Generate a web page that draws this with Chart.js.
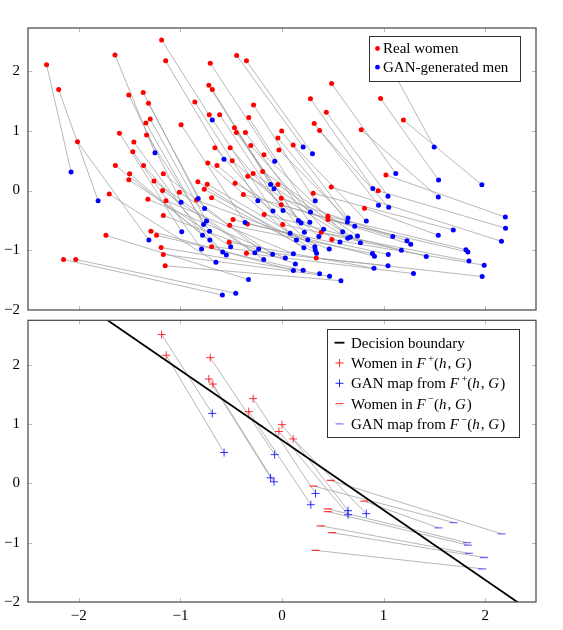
<!DOCTYPE html>
<html>
<head>
<meta charset="utf-8">
<script src="https://cdn.jsdelivr.net/npm/chart.js@4.4.0/dist/chart.umd.min.js"></script>
<style>
  html, body { margin: 0; padding: 0; background: #fff; }
  #wrap { position: relative; width: 563px; height: 630px; }
  .panel { position: absolute; left: 0; width: 563px; height: 315px; }
</style>
</head>
<body>
<div id="wrap">
  <div class="panel" style="top:0"><canvas id="topChart" width="563" height="315"></canvas></div>
  <div class="panel" style="top:315px"><canvas id="bottomChart" width="563" height="315"></canvas></div>
</div>
<script>
// top panel: real women and their GAN-generated men, in pair order
var realX = [-1.185, -1.145, -0.706, -0.72, -0.686, -0.28, -0.327, -0.003, -0.04, 0.11,
             0.485, 0.307, 0.812, 0.452, 0.452, 0.386, 0.49, 0.337,
             -2.317, -2.198, -2.013, -1.644, -2.15, -2.03, -1.733, -1.70,
             -0.446, -0.35, 0.488, 0.28, 0.436, 0.37, 0.317, 0.97, 0.78, 1.195, 1.0, 1.023, 0.947,
             -1.15, -1.168, -1.19, -1.235, -1.29, -0.693, -0.52, -0.35, -1.168, -1.32,
             -1.142, -0.482, -0.515, -0.34, -0.175, 0.007, -0.007, -0.007, -0.38, -0.04,
             -1.508, -1.366, -1.314, -1.297, -1.34, -1.333, -1.60, -1.458, -1.468, -1.64,
             -1.363, -1.50, -1.508, -1.26, -0.858, -0.716, -0.614, -0.993, -0.468, -0.449,
             -0.36, -0.03, -0.66, -0.51, -0.307, -0.178, -0.73, -0.64, -0.49, -0.337,
             -0.284, -0.19, -1.168, -1.175, -0.828, -0.736, -0.765, -0.462, -1.01, -0.693, -0.842];
var realY = [2.52, 2.17, 2.13, 1.76, 1.69, 1.43, 1.22, 0.995, 0.88, 0.76,
             0.057, -0.045, -0.295, -0.43, -0.485, -0.70, -0.82, -1.13,
             2.105, 1.69, 0.815, 2.27, -1.155, -1.155, -0.75, -0.06,
             2.26, 2.17, 1.79, 1.535, 1.31, 1.005, 1.12, 1.54, 1.015, 1.18, 2.28, 0.26, -0.005,
             -1.26, -1.07, -0.955, -0.75, -0.68, -0.94, -0.865, -1.05, -0.42, -0.145,
             -0.17, -0.485, -0.58, -0.56, -0.40, -0.57, -0.24, -0.13, -0.065, 0.10,
             1.60, 1.64, 1.46, 1.196, 1.13, 0.93, 0.96, 0.81, 0.65, 0.42,
             0.42, 0.28, 0.18, 0.16, 1.48, 1.27, 1.27, 1.10, 1.05, 0.97,
             0.97, 0.68, 0.715, 0.715, 0.755, 0.60, 0.46, 0.42, 0.50, 0.24,
             0.285, 0.32, 0.28, 0.0, 0.145, 0.105, 0.02, 0.12, -0.03, -0.12, -0.16];
var ganX = [-0.686, -0.571, -0.072, -0.112, -0.079, 0.327, 0.28, 0.65, 0.644, 0.83,
            2.16, 1.686, 1.538, 1.81, 1.83, 1.84, 1.99, 1.97,
            -2.076, -1.81, -1.31, -1.25, -0.587, -0.455, -0.33, -0.65,
            0.208, 0.30, 1.12, 0.894, 1.043, 1.05, 0.95, 1.541, 1.538, 1.967, 1.498, 2.198, 2.20,
            0.58, 0.468, 0.37, 0.208, 0.112, 1.043, 0.905, 1.294, 0.132, 0.033,
            0.112, 0.91, 0.89, 1.046, 1.42, 1.175, 1.267, 1.23, 1.09, 0.772,
            -0.993, -0.825, -0.762, -0.743, -0.772, -0.713, -0.987, -0.782, -0.792, -0.71,
            -0.584, -0.548, -0.505, -0.267, -0.238, -0.089, 0.01, -0.363, 0.161, 0.188,
            0.274, 0.716, 0.08, 0.22, 0.41, 0.597, 0.142, 0.254, 0.363, 0.647,
            0.673, 0.743, -0.23, -0.18, 0.215, 0.323, 0.327, 0.571, -0.092, 0.34, 0.465];
var ganY = [1.18, 0.525, 0.49, 0.10, 0.03, -0.17, -0.36, -0.46, -0.525, -0.51,
            -0.85, -0.66, -0.75, -0.99, -1.03, -1.18, -1.25, -1.44,
            0.31, -0.17, -0.83, 0.63, -1.75, -1.72, -1.49, -1.20,
            0.73, 0.615, 0.285, 0.035, -0.095, -0.28, -0.245, 0.175, -0.11, 0.095, 0.73, -0.445, -0.63,
            -1.51, -1.435, -1.395, -1.335, -1.34, -1.26, -1.30, -1.39, -1.23, -1.13,
            -1.06, -1.10, -1.055, -1.07, -1.105, -1.00, -0.90, -0.84, -0.77, -0.875,
            -0.195, -0.135, -0.30, -0.51, -0.57, -0.68, -0.69, -0.75, -0.98, -0.83,
            -1.03, -1.08, -0.94, -1.04, -0.17, -0.345, -0.335, -0.535, -0.50, -0.545,
            -0.53, -0.60, -0.715, -0.70, -0.65, -0.69, -0.83, -0.825, -0.77, -0.80,
            -0.78, -0.76, -0.98, -1.155, -0.96, -0.94, -0.995, -0.86, -1.065, -1.05, -0.98];

// bottom panel: women in F+ / F- and their GAN maps, in pair order
var plusWomenX = [-1.185, -1.14, -0.706, -0.72, -0.68, -0.284, -0.327, 0.0, -0.03, 0.11];
var plusWomenY = [2.51, 2.16, 2.12, 1.76, 1.675, 1.43, 1.21, 0.99, 0.876, 0.75];
var plusGanX = [-0.686, -0.57, -0.072, -0.112, -0.079, 0.33, 0.284, 0.65, 0.65, 0.83];
var plusGanY = [1.18, 0.52, 0.485, 0.094, 0.027, -0.17, -0.36, -0.46, -0.53, -0.51];
var minusWomenX = [0.48, 0.31, 0.81, 0.45, 0.45, 0.38, 0.49, 0.33];
var minusWomenY = [0.05, -0.045, -0.30, -0.43, -0.475, -0.715, -0.83, -1.13];
var minusGanX = [2.16, 1.69, 1.54, 1.82, 1.83, 1.84, 1.99, 1.97];
var minusGanY = [-0.85, -0.66, -0.75, -1.0, -1.04, -1.18, -1.25, -1.44];

var boundaryX = [-1.75, 2.35];
var boundaryY = [2.79, -2.04];

var tickValues = [-2, -1, 0, 1, 2];

var SERIF = '"Liberation Serif", "DejaVu Serif", serif';

function toPoints(xs, ys) {
    return xs.map(function(x, i) { return {x: x, y: ys[i]}; });
}

// gray connectors: pairs separated by gaps
function pairLines(ax, ay, bx, by) {
    var pts = [];
    for (var i = 0; i < ax.length; i++) {
        pts.push({x: ax[i], y: ay[i]}, {x: bx[i], y: by[i]}, {x: null, y: null});
    }
    return pts;
}

function fmtTick(v) {
    return v < 0 ? '\u2212' + Math.abs(v) : String(v);
}

// frame with inward ticks on all four sides
var framePlugin = {
    id: 'frame',
    afterDraw: function(chart) {
        var ctx = chart.ctx, a = chart.chartArea;
        var sx = chart.scales.x, sy = chart.scales.y;
        ctx.save();
        ctx.strokeStyle = '#aaa';
        ctx.lineWidth = 0.8;
        ctx.beginPath();
        tickValues.forEach(function(v) {
            var px = Math.round(sx.getPixelForValue(v)) + 0.5;
            ctx.moveTo(px, a.bottom); ctx.lineTo(px, a.bottom - 4);
            ctx.moveTo(px, a.top); ctx.lineTo(px, a.top + 4);
            var py = Math.round(sy.getPixelForValue(v)) + 0.5;
            if (py > a.top + 2 && py < a.bottom - 2) {
                ctx.moveTo(a.left, py); ctx.lineTo(a.left + 4, py);
                ctx.moveTo(a.right, py); ctx.lineTo(a.right - 4, py);
            }
        });
        ctx.stroke();
        ctx.strokeStyle = '#444';
        ctx.lineWidth = 1.2;
        ctx.strokeRect(a.left, a.top, a.right - a.left, a.bottom - a.top);
        ctx.restore();
    }
};

function drawRich(ctx, x, y, parts) {
    parts.forEach(function(p) {
        var size = p.sup ? 10.5 : 15;
        ctx.font = (p.i ? 'italic ' : '') + size + 'px ' + SERIF;
        if (p.sup) x += 1.5;
        ctx.fillText(p.t, x, p.sup ? y - 5 : y);
        x += ctx.measureText(p.t).width + (p.i ? 1 : 0);
    });
}

// legend box drawn inside the plot, over the marks
var boxLegendPlugin = {
    id: 'boxLegend',
    afterDraw: function(chart, args, opts) {
        if (!opts || !opts.items) return;
        var ctx = chart.ctx;
        ctx.save();
        ctx.fillStyle = '#fff';
        ctx.fillRect(opts.x, opts.y, opts.w, opts.h);
        ctx.strokeStyle = '#333';
        ctx.lineWidth = 1;
        ctx.strokeRect(opts.x + 0.5, opts.y + 0.5, opts.w, opts.h);
        ctx.textBaseline = 'middle';
        opts.items.forEach(function(it, k) {
            var cy = opts.y + opts.first + k * opts.step;
            var mx = opts.x + opts.markX;
            ctx.strokeStyle = it.color;
            ctx.fillStyle = it.color;
            if (it.marker === 'dot') {
                ctx.beginPath();
                ctx.arc(mx, cy, 2.4, 0, Math.PI * 2);
                ctx.fill();
            } else if (it.marker === 'line') {
                ctx.lineWidth = 1.8;
                ctx.beginPath();
                ctx.moveTo(mx - 5, cy); ctx.lineTo(mx + 5, cy);
                ctx.stroke();
            } else {
                ctx.lineWidth = 1;
                ctx.beginPath();
                ctx.moveTo(mx - 4, cy); ctx.lineTo(mx + 4, cy);
                if (it.marker === 'plus') { ctx.moveTo(mx, cy - 4); ctx.lineTo(mx, cy + 4); }
                ctx.stroke();
            }
            ctx.fillStyle = '#000';
            drawRich(ctx, opts.x + opts.textX, cy + 1, it.parts);
        });
        ctx.restore();
    }
};

function noPad(s) {
    s.paddingTop = 0; s.paddingBottom = 0; s.paddingLeft = 0; s.paddingRight = 0;
}

function axisOptions(yMax, showX) {
    return {
        x: {
            type: 'linear', min: -2.5, max: 2.5,
            grid: {display: false, drawTicks: false},
            border: {display: false},
            afterBuildTicks: function(s) { s.ticks = tickValues.map(function(v) { return {value: v}; }); },
            afterFit: function(s) { s.height = showX ? 28 : 0; noPad(s); },
            ticks: {display: showX, padding: 5, color: '#000', font: {family: SERIF, size: 15}, callback: fmtTick}
        },
        y: {
            type: 'linear', min: -2, max: yMax,
            grid: {display: false, drawTicks: false},
            border: {display: false},
            afterBuildTicks: function(s) { s.ticks = tickValues.map(function(v) { return {value: v}; }); },
            afterFit: function(s) { s.width = 28; noPad(s); },
            ticks: {padding: 8, color: '#000', font: {family: SERIF, size: 15}, callback: fmtTick}
        }
    };
}

function mathLabel(prefix, sign) {
    return [{t: prefix}, {t: 'F', i: true}, {t: sign, sup: true}, {t: '('}, {t: 'h', i: true},
            {t: ', '}, {t: 'G', i: true}, {t: ')'}];
}

document.addEventListener("DOMContentLoaded", function() {
    createTopChart();
    createBottomChart();
});

function createTopChart() {
    var ctx = document.getElementById('topChart').getContext('2d');
    new Chart(ctx, {
        type: 'scatter',
        data: {
            datasets: [{
                data: toPoints(ganX, ganY),
                backgroundColor: '#0000ff', borderWidth: 0, pointRadius: 2.5, order: 0
            }, {
                data: toPoints(realX, realY),
                backgroundColor: '#ff0000', borderWidth: 0, pointRadius: 2.5, order: 1
            }, {
                data: pairLines(realX, realY, ganX, ganY),
                showLine: true, spanGaps: false, pointRadius: 0,
                borderColor: 'rgba(160,160,160,0.85)', borderWidth: 0.9, order: 2
            }]
        },
        options: {
            responsive: false,
            animation: false,
            layout: {padding: {left: 0, top: 28, right: 27, bottom: 5}},
            scales: axisOptions(2.72, false),
            plugins: {
                legend: {display: false},
                tooltip: {enabled: false},
                boxLegend: {
                    x: 369, y: 36, w: 151, h: 45, first: 12.5, step: 18.7, markX: 8.5, textX: 14,
                    items: [
                        {marker: 'dot', color: '#ff0000', parts: [{t: 'Real women'}]},
                        {marker: 'dot', color: '#0000ff', parts: [{t: 'GAN-generated men'}]}
                    ]
                }
            }
        },
        plugins: [framePlugin, boxLegendPlugin]
    });
}

function createBottomChart() {
    var ctx = document.getElementById('bottomChart').getContext('2d');
    var connectors = pairLines(plusWomenX, plusWomenY, plusGanX, plusGanY)
        .concat(pairLines(minusWomenX, minusWomenY, minusGanX, minusGanY));
    new Chart(ctx, {
        type: 'scatter',
        data: {
            datasets: [{
                data: toPoints(boundaryX, boundaryY),
                showLine: true, pointRadius: 0, borderColor: '#000', borderWidth: 1.8, clip: 0, order: 0
            }, {
                data: toPoints(plusGanX, plusGanY),
                pointStyle: 'cross', pointRadius: 4, borderColor: 'rgba(0,0,255,0.8)', borderWidth: 1, order: 1
            }, {
                data: toPoints(minusGanX, minusGanY),
                pointStyle: 'line', pointRadius: 4, borderColor: 'rgba(40,40,255,0.65)', borderWidth: 1.3, order: 2
            }, {
                data: toPoints(plusWomenX, plusWomenY),
                pointStyle: 'cross', pointRadius: 4, borderColor: 'rgba(255,0,0,0.8)', borderWidth: 1, order: 3
            }, {
                data: toPoints(minusWomenX, minusWomenY),
                pointStyle: 'line', pointRadius: 4, borderColor: 'rgba(255,0,0,0.75)', borderWidth: 1.3, order: 4
            }, {
                data: connectors,
                showLine: true, spanGaps: false, pointRadius: 0,
                borderColor: 'rgba(160,160,160,0.85)', borderWidth: 0.9, order: 5
            }]
        },
        options: {
            responsive: false,
            animation: false,
            layout: {padding: {left: 0, top: 4, right: 27, bottom: 0}},
            scales: axisOptions(2.75, true),
            plugins: {
                legend: {display: false},
                tooltip: {enabled: false},
                boxLegend: {
                    x: 327, y: 14, w: 192, h: 108, first: 13.7, step: 20.3, markX: 12.5, textX: 24,
                    items: [
                        {marker: 'line', color: '#000', parts: [{t: 'Decision boundary'}]},
                        {marker: 'plus', color: 'rgba(255,0,0,0.85)', parts: mathLabel('Women in ', '+')},
                        {marker: 'plus', color: 'rgba(0,0,255,0.85)', parts: mathLabel('GAN map from ', '+')},
                        {marker: 'minus', color: 'rgba(255,0,0,0.85)', parts: mathLabel('Women in ', '\u2212')},
                        {marker: 'minus', color: 'rgba(40,40,255,0.75)', parts: mathLabel('GAN map from ', '\u2212')}
                    ]
                }
            }
        },
        plugins: [framePlugin, boxLegendPlugin]
    });
}
</script>
</body>
</html>
